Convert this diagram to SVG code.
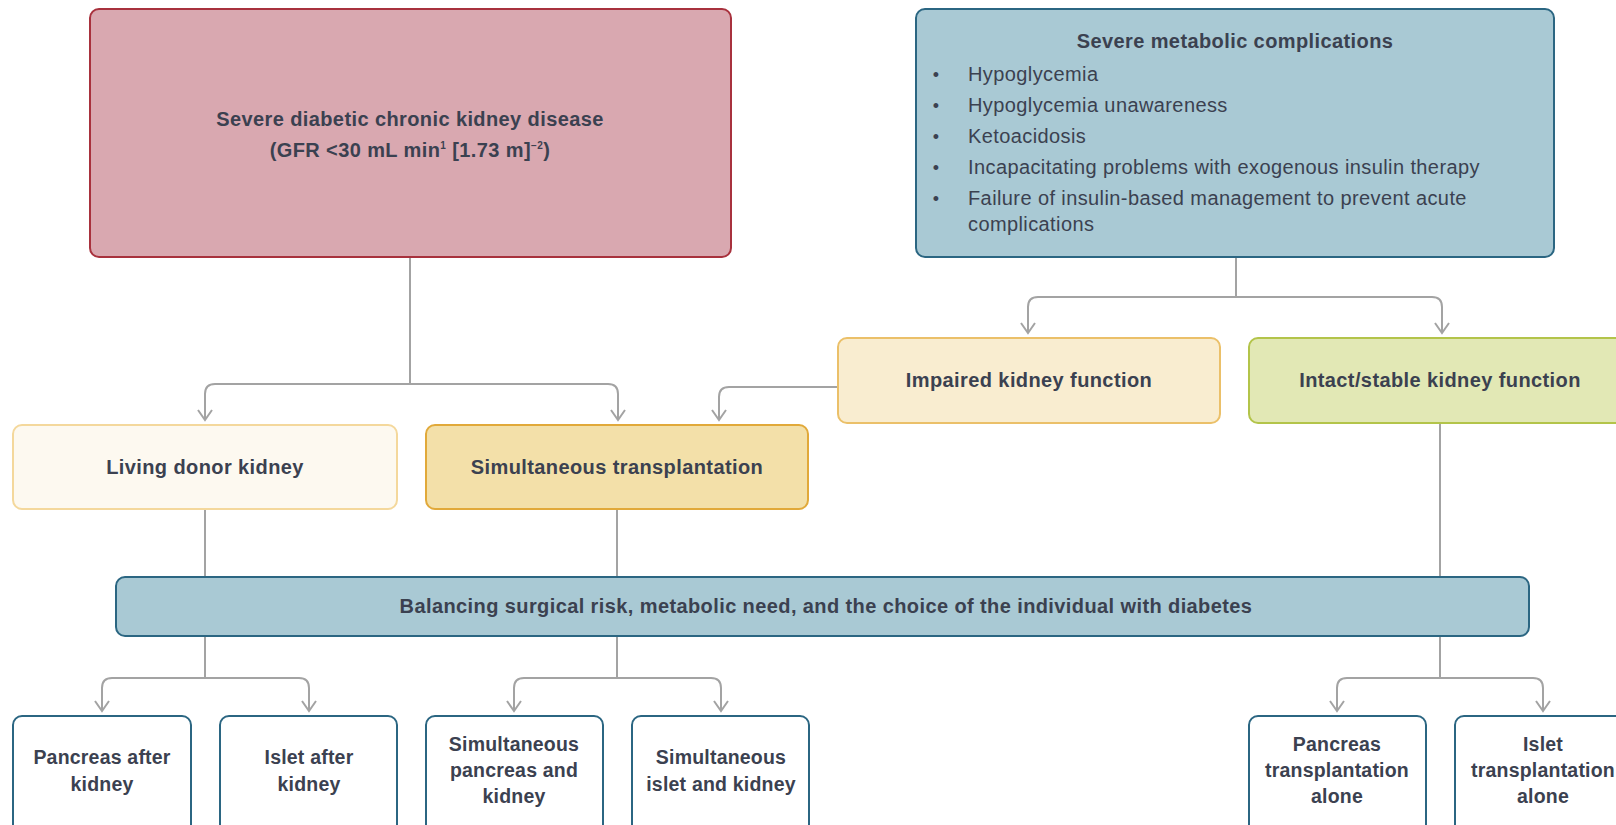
<svg xmlns="http://www.w3.org/2000/svg" width="1616" height="825" viewBox="0 0 1616 825">
<defs>
<marker id="arr" markerUnits="userSpaceOnUse" markerWidth="14" markerHeight="16" viewBox="0 0 14 16" refX="11" refY="8" orient="auto">
<path d="M1,1 L11,8 L1,15" fill="none" stroke="#a3a3a3" stroke-width="2"/>
</marker>
</defs>
<style>
text{font-family:"Liberation Sans",Arial,sans-serif;fill:#3b4150;font-weight:bold;font-size:20px;text-anchor:middle;letter-spacing:0.4px}
.reg{font-weight:normal;text-anchor:start;font-size:20px;letter-spacing:0.4px}
.bul{font-weight:normal;font-size:18px;letter-spacing:0}
.conn{fill:none;stroke:#a3a3a3;stroke-width:2}
.bot rect{fill:#ffffff;stroke:#2b6682;stroke-width:2}
.bot text{font-size:19.5px;letter-spacing:0.2px}
</style>
<g id="connectors">
<path class="conn" d="M410,257 V384"/>
<path class="conn" d="M410,384 H215 Q205,384 205,394 V420" marker-end="url(#arr)"/>
<path class="conn" d="M410,384 H608 Q618,384 618,394 V420" marker-end="url(#arr)"/>
<path class="conn" d="M1236,257 V297"/>
<path class="conn" d="M1236,297 H1038 Q1028,297 1028,307 V333" marker-end="url(#arr)"/>
<path class="conn" d="M1236,297 H1432 Q1442,297 1442,307 V333" marker-end="url(#arr)"/>
<path class="conn" d="M838,387 H729 Q719,387 719,397 V420" marker-end="url(#arr)"/>
<path class="conn" d="M205,509 V577"/>
<path class="conn" d="M617,509 V577"/>
<path class="conn" d="M1440,423 V577"/>
<path class="conn" d="M205,636 V678"/>
<path class="conn" d="M205,678 H112 Q102,678 102,688 V711" marker-end="url(#arr)"/>
<path class="conn" d="M205,678 H299 Q309,678 309,688 V711" marker-end="url(#arr)"/>
<path class="conn" d="M617,636 V678"/>
<path class="conn" d="M617,678 H524 Q514,678 514,688 V711" marker-end="url(#arr)"/>
<path class="conn" d="M617,678 H711 Q721,678 721,688 V711" marker-end="url(#arr)"/>
<path class="conn" d="M1440,636 V678"/>
<path class="conn" d="M1440,678 H1347 Q1337,678 1337,688 V711" marker-end="url(#arr)"/>
<path class="conn" d="M1440,678 H1533 Q1543,678 1543,688 V711" marker-end="url(#arr)"/>
</g>
<g id="ckd">
<rect x="90" y="9" width="641" height="248" rx="9" fill="#d9a8b0" stroke="#a8313d" stroke-width="2"/>
<text x="410" y="126">Severe diabetic chronic kidney disease</text>
<text x="410" y="157">(GFR &lt;30 mL min<tspan font-size="10" dy="-8">1</tspan><tspan dy="8"> [1.73 m]</tspan><tspan font-size="10" dy="-8">−2</tspan><tspan dy="8">)</tspan></text>
</g>
<g id="metabolic">
<rect x="916" y="9" width="638" height="248" rx="9" fill="#a9c9d4" stroke="#2b6682" stroke-width="2"/>
<text x="1235" y="48">Severe metabolic complications</text>
<text class="bul" x="936" y="81">•</text><text class="reg" x="968" y="81">Hypoglycemia</text>
<text class="bul" x="936" y="112">•</text><text class="reg" x="968" y="112">Hypoglycemia unawareness</text>
<text class="bul" x="936" y="143">•</text><text class="reg" x="968" y="143">Ketoacidosis</text>
<text class="bul" x="936" y="174">•</text><text class="reg" x="968" y="174">Incapacitating problems with exogenous insulin therapy</text>
<text class="bul" x="936" y="205">•</text><text class="reg" x="968" y="205">Failure of insulin-based management to prevent acute</text>
<text class="reg" x="968" y="231">complications</text>
</g>
<g id="impaired">
<rect x="838" y="338" width="382" height="85" rx="9" fill="#f9edd0" stroke="#ebc069" stroke-width="2"/>
<text x="1029" y="387">Impaired kidney function</text>
</g>
<g id="intact">
<rect x="1249" y="338" width="390" height="85" rx="9" fill="#e2e8b5" stroke="#b3c44a" stroke-width="2"/>
<text x="1440" y="387">Intact/stable kidney function</text>
</g>
<g id="living">
<rect x="13" y="425" width="384" height="84" rx="9" fill="#fdf9f0" stroke="#f4d89c" stroke-width="2"/>
<text x="205" y="474">Living donor kidney</text>
</g>
<g id="simultaneous">
<rect x="426" y="425" width="382" height="84" rx="9" fill="#f3e0a9" stroke="#e1a93a" stroke-width="2"/>
<text x="617" y="474">Simultaneous transplantation</text>
</g>
<g id="balancing">
<rect x="116" y="577" width="1413" height="59" rx="9" fill="#a9c9d4" stroke="#2b6682" stroke-width="2"/>
<text x="826" y="613">Balancing surgical risk, metabolic need, and the choice of the individual with diabetes</text>
</g>
<g id="pak" class="bot">
<rect x="13" y="716" width="178" height="120" rx="9"/>
<text x="102" y="764">Pancreas after</text>
<text x="102" y="791">kidney</text>
</g>
<g id="iak" class="bot">
<rect x="220" y="716" width="177" height="120" rx="9"/>
<text x="309" y="764">Islet after</text>
<text x="309" y="791">kidney</text>
</g>
<g id="spk" class="bot">
<rect x="426" y="716" width="177" height="120" rx="9"/>
<text x="514" y="751">Simultaneous</text>
<text x="514" y="777">pancreas and</text>
<text x="514" y="803">kidney</text>
</g>
<g id="sik" class="bot">
<rect x="632" y="716" width="177" height="120" rx="9"/>
<text x="721" y="764">Simultaneous</text>
<text x="721" y="791">islet and kidney</text>
</g>
<g id="pta" class="bot">
<rect x="1249" y="716" width="177" height="120" rx="9"/>
<text x="1337" y="751">Pancreas</text>
<text x="1337" y="777">transplantation</text>
<text x="1337" y="803">alone</text>
</g>
<g id="ita" class="bot">
<rect x="1455" y="716" width="177" height="120" rx="9"/>
<text x="1543" y="751">Islet</text>
<text x="1543" y="777">transplantation</text>
<text x="1543" y="803">alone</text>
</g>
</svg>
